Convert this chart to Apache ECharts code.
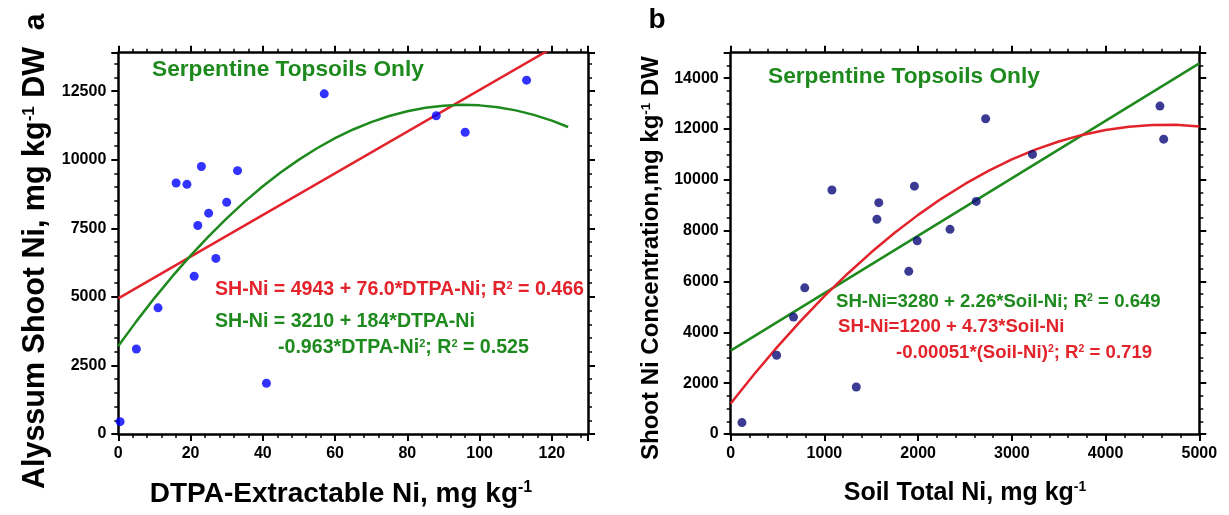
<!DOCTYPE html>
<html><head><meta charset="utf-8">
<script src="https://cdn.jsdelivr.net/npm/echarts@6/dist/echarts.min.js"></script>
<style>html,body{margin:0;padding:0;background:#fff}#c{width:1229px;height:515px}</style>
</head><body><div id="c"></div>
<script>
// ---- Panel a data ----
const dtpaNi   = [0.5, 5, 11, 16, 19, 21, 22, 23, 25, 27, 30, 33, 41, 57, 88, 96, 113];
const shootNiA = [450, 3100, 4600, 9150, 9100, 5750, 7600, 9750, 8050, 6400, 8450, 9600, 1850, 12400, 11600, 11000, 12900];
const linFitA_x  = [0, 120];
const linFitA_y  = [4943, 14063];
const quadFitA_x = [0, 5, 10, 15, 20, 25, 30, 35, 40, 45, 50, 55, 60, 65, 70, 75, 80, 85, 90, 95, 100, 105, 110, 115, 120, 124.5];
const quadFitA_y = [3210, 4106, 4954, 5753, 6505, 7208, 7863, 8470, 9029, 9540, 10002, 10417, 10783, 11101, 11371, 11593, 11767, 11892, 11970, 11999, 11980, 11913, 11798, 11634, 11423, 11191];
// ---- Panel b data ----
const soilTotalNi = [120, 490, 670, 790, 1080, 1340, 1560, 1580, 1900, 1960, 1990, 2340, 2620, 2720, 3220, 4580, 4620];
const shootNiB    = [450, 3100, 4600, 5750, 9600, 1850, 8450, 9100, 6400, 9750, 7600, 8050, 9150, 12400, 11000, 12900, 11600];
const linFitB_x  = [0, 5000];
const linFitB_y  = [3280, 14580];
const quadFitB_x = [0, 250, 500, 750, 1000, 1250, 1500, 1750, 2000, 2250, 2500, 2750, 3000, 3250, 3500, 3750, 4000, 4250, 4500, 4750, 5000];
const quadFitB_y = [1200, 2351, 3437, 4461, 5420, 6316, 7147, 7916, 8620, 9261, 9837, 10351, 10800, 11186, 11507, 11766, 11960, 12091, 12157, 12161, 12100];
// ---- Axis ranges / ticks ----
const axisA = {x: [0, 130, 20, 4], y: [0, 13900, 2500, 500]};
const axisB = {x: [0, 5000, 1000, 200], y: [0, 15000, 2000, 500]};

const FONT = 'Liberation Sans, Arial, sans-serif';
const GREEN = '#1e8a1e', RED = '#e3232b';
const zip = (a, b) => a.map((v, i) => [v, b[i]]);

const chart = echarts.init(document.getElementById('c'), null, {renderer: 'canvas'});

function axes(g, r, pos1, pos2) {
  const [mn, mx, step, minor] = r;
  const base = {gridIndex: g, type: 'value', min: mn, max: mx, splitLine: {show: false}};
  const major = (pos, labels) => Object.assign({}, base, {
    position: pos, interval: step,
    axisLine: {show: true, onZero: false, lineStyle: {color: '#000', width: 2.5}},
    axisTick: {show: true, length: 7, lineStyle: {color: '#000', width: 2}},
    axisLabel: labels ? {show: true, color: '#000', fontFamily: FONT, fontWeight: 'bold', fontSize: 16, margin: 12,
      formatter: v => (Math.abs(v % step) < 1e-9 ? String(v) : '')} : {show: false}
  });
  const minr = (pos) => Object.assign({}, base, {
    position: pos, interval: minor,
    axisLine: {show: false, onZero: false},
    axisTick: {show: true, length: 4, lineStyle: {color: '#000', width: 1.5}},
    axisLabel: {show: false}
  });
  return [major(pos1, true), minr(pos1), major(pos2, false), minr(pos2)];
}

const xAxis = [].concat(axes(0, axisA.x, 'bottom', 'top'), axes(1, axisB.x, 'bottom', 'top'));
const yAxis = [].concat(axes(0, axisA.y, 'left', 'right'), axes(1, axisB.y, 'left', 'right'));

function txt(x, y, text, rich, color, opts) {
  const o = Object.assign({align: 'left', rotation: 0}, opts || {});
  const r = {};
  for (const k in rich) r[k] = Object.assign({fill: color, fontFamily: FONT, fontWeight: 'bold'}, rich[k]);
  return {type: 'text', x: x, y: y, rotation: o.rotation, z: 100,
    style: {text: text, rich: r, fill: color, fontFamily: FONT, fontWeight: 'bold', fontSize: rich.n.fontSize,
      align: o.align, verticalAlign: 'middle', textAlign: o.align, textVerticalAlign: 'middle'}};
}
const R = (n, s) => ({n: {fontSize: n}, s: {fontSize: s, verticalAlign: 'top'}});

const graphic = [
  txt(152, 70, '{n|Serpentine Topsoils Only}', R(22.7, 13), GREEN),
  txt(215, 290, '{n|SH-Ni = 4943 + 76.0*DTPA-Ni; R}{s|2}{n| = 0.466}', R(19.6, 11), RED),
  txt(215, 322, '{n|SH-Ni = 3210 + 184*DTPA-Ni}', R(19.6, 11), GREEN),
  txt(278, 348, '{n|-0.963*DTPA-Ni}{s|2}{n|; R}{s|2}{n| = 0.525}', R(19.6, 11), GREEN),
  txt(768, 77, '{n|Serpentine Topsoils Only}', R(22.7, 13), GREEN),
  txt(836, 302, '{n|SH-Ni=3280 + 2.26*Soil-Ni; R}{s|2}{n| = 0.649}', R(18.6, 10.5), GREEN),
  txt(838, 327, '{n|SH-Ni=1200 + 4.73*Soil-Ni}', R(18.6, 10.5), RED),
  txt(896, 353, '{n|-0.00051*(Soil-Ni)}{s|2}{n|; R}{s|2}{n| = 0.719}', R(18.6, 10.5), RED),
  txt(341, 494, '{n|DTPA-Extractable Ni, mg kg}{s|-1}', R(28, 16), '#000', {align: 'center'}),
  txt(965, 493, '{n|Soil Total Ni, mg kg}{s|-1}', R(25, 14), '#000', {align: 'center'}),
  txt(36, 268, '{n|Alyssum Shoot Ni, mg kg}{s|-1}{n| DW}', R(30.5, 17), '#000', {align: 'center', rotation: Math.PI / 2}),
  txt(651, 258, '{n|Shoot Ni Concentration,mg kg}{s|-1}{n| DW}', R(24, 13.5), '#000', {align: 'center', rotation: Math.PI / 2}),
  txt(36, 22, '{n|a}', R(30, 16), '#000', {align: 'center', rotation: Math.PI / 2}),
  txt(657, 20, '{n|b}', R(28, 16), '#000', {align: 'center'})
];

const lineS = (xi, yi, data, color) => ({type: 'line', xAxisIndex: xi, yAxisIndex: yi, data: data,
  showSymbol: false, symbol: 'none', smooth: false, clip: true, lineStyle: {color: color, width: 2.5}, z: 2});
const dotS = (xi, yi, data, color) => ({type: 'scatter', xAxisIndex: xi, yAxisIndex: yi, data: data,
  symbolSize: 9, itemStyle: {color: color}, z: 3});

chart.setOption({
  animation: false,
  backgroundColor: '#fff',
  grid: [
    {left: 118.3, top: 52.7, width: 469.7, height: 381.3},
    {left: 730.7, top: 52.7, width: 468.6, height: 381.3}
  ],
  xAxis: xAxis,
  yAxis: yAxis,
  series: [
    lineS(0, 0, zip(linFitA_x, linFitA_y), RED),
    lineS(0, 0, zip(quadFitA_x, quadFitA_y), GREEN),
    dotS(0, 0, zip(dtpaNi, shootNiA), '#0000ff'),
    lineS(4, 4, zip(linFitB_x, linFitB_y), GREEN),
    lineS(4, 4, zip(quadFitB_x, quadFitB_y), RED),
    dotS(4, 4, zip(soilTotalNi, shootNiB), '#0a0a78')
  ],
  graphic: graphic
});
</script></body></html>
